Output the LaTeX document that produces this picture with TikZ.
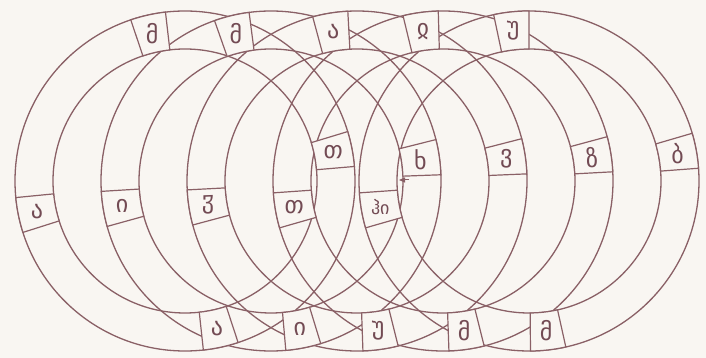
\documentclass[tikz,border=0pt]{standalone}
\usepackage{fontspec}
\newfontfamily\geo{DejaVu Sans}
\usetikzlibrary{arrows.meta}
\definecolor{ink}{RGB}{138,96,102}
\definecolor{glyphink}{RGB}{115,75,84}
\definecolor{paper}{RGB}{249,246,242}
\tikzset{
  ringline/.style={draw=ink, line width=1.3pt},
  cell/.style={draw=ink, line width=1.2pt, fill=paper},
  glyph/.style={text=glyphink, font=\geo\fontsize{24}{24}\selectfont, inner sep=0pt},
}
\newcommand\lettercell[4]{%
  \begin{scope}[shift={(#1,177)}]
    \path[cell] (#2-6:132) -- (#2-6:170)
      arc[start angle=#2-6, end angle=#2+6, radius=170]
      -- (#2+6:132)
      arc[start angle=#2+6, end angle=#2-6, radius=132] -- cycle;
    \node[glyph] (#3) at (#2:151) {#4};
  \end{scope}}
\begin{document}
\begin{tikzpicture}[x=1pt,y=1pt]
  \fill[paper] (0,0) rectangle (706,358);
  \useasboundingbox (0,0) rectangle (706,358);
  % five rings: outer and inner circle each
  \foreach \c in {185,271,357,443,529} {
    \draw[ringline] (\c,177) circle[radius=170];
    \draw[ringline] (\c,177) circle[radius=132];
  }
  % ring 0
  \lettercell{185}{102.6}{r0t}{მ}
  \lettercell{185}{191.6}{r0l}{ა}
  \lettercell{185}{282.2}{r0b}{ა}
  \lettercell{185}{10.9}{r0r}{თ}
  % ring 1
  \lettercell{271}{103.4}{r1t}{მ}
  \lettercell{271}{189.5}{r1l}{ი}
  \lettercell{271}{281}{r1b}{ი}
  \lettercell{271}{8.1}{r1r}{ხ}
  % ring 2
  \lettercell{357}{99.1}{r2t}{ა}
  \lettercell{357}{189}{r2l}{ჳ}
  \lettercell{357}{278}{r2b}{უ}
  \lettercell{357}{8.4}{r2r}{ვ}
  % ring 3
  \lettercell{443}{97.6}{r3t}{ჲ}
  \lettercell{443}{190}{r3l}{თ}
  \lettercell{443}{278}{r3b}{მ}
  \lettercell{443}{9.1}{r3r}{ზ}
  % ring 4
  \lettercell{529}{96}{r4t}{უ}
  \lettercell{529}{190}{r4l}{\fontsize{18}{18}\selectfont ჰი}
  \lettercell{529}{276.5}{r4b}{მ}
  \lettercell{529}{10.3}{r4r}{ბ}
  % small start mark
  \coordinate (marktail) at (409,178);
  \coordinate (marktip) at (399,178);
  \draw[ink, line width=1pt, -{Triangle[length=6pt,width=5pt]}] (marktail) -- (marktip);
\end{tikzpicture}
\end{document}
